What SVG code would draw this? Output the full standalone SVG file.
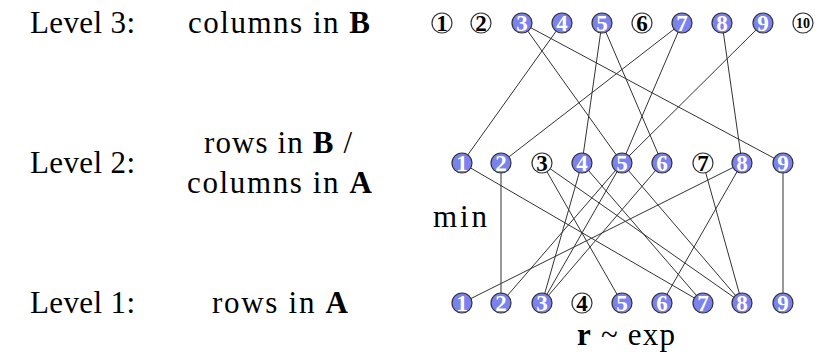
<svg xmlns="http://www.w3.org/2000/svg" width="818" height="352" viewBox="0 0 818 352">
<style>
.lbl{font-family:"Liberation Serif","DejaVu Serif",serif;font-size:31px;fill:#000}
.b{font-weight:bold}
.e line{stroke:#333;stroke-width:1}
.on circle{fill:#7a82ee;stroke:#333;stroke-width:1.2}
.off circle{fill:#fff;stroke:#333;stroke-width:1.2}
.on text{font-family:"Liberation Serif","DejaVu Serif",serif;font-weight:bold;font-size:23px;fill:#fff;text-anchor:middle}
.off text{font-family:"Liberation Serif","DejaVu Serif",serif;font-weight:bold;font-size:23px;fill:#000;text-anchor:middle}
</style>
<rect width="818" height="352" fill="#fff"/>
<g id="labels">
<text class="lbl" x="30" y="33" textLength="105" lengthAdjust="spacing">Level 3:</text>
<text class="lbl" x="188" y="33" textLength="182" lengthAdjust="spacing">columns in <tspan class="b">B</tspan></text>
<text class="lbl" x="30" y="173" textLength="105" lengthAdjust="spacing">Level 2:</text>
<text class="lbl" x="204" y="153" textLength="148" lengthAdjust="spacing">rows in <tspan class="b">B</tspan> /</text>
<text class="lbl" x="187" y="193" textLength="185" lengthAdjust="spacing">columns in <tspan class="b">A</tspan></text>
<text class="lbl" x="30" y="313" textLength="105" lengthAdjust="spacing">Level 1:</text>
<text class="lbl" x="212" y="313" textLength="136" lengthAdjust="spacing">rows in <tspan class="b">A</tspan></text>
<text class="lbl" x="433" y="227" textLength="54" lengthAdjust="spacing">min</text>
<text class="lbl" x="577" y="345" textLength="98" lengthAdjust="spacing"><tspan class="b">r</tspan> ~ exp</text>
</g>
<g id="connectors" class="e">
<line x1="522" y1="23" x2="622" y2="163"/>
<line x1="522" y1="23" x2="783" y2="163"/>
<line x1="562" y1="23" x2="462" y2="163"/>
<line x1="602" y1="23" x2="582" y2="163"/>
<line x1="602" y1="23" x2="662" y2="163"/>
<line x1="682" y1="23" x2="501" y2="163"/>
<line x1="682" y1="23" x2="622" y2="163"/>
<line x1="722" y1="23" x2="742" y2="163"/>
<line x1="763" y1="23" x2="622" y2="163"/>
<line x1="462" y1="163" x2="703" y2="303"/>
<line x1="501" y1="163" x2="501" y2="303"/>
<line x1="542" y1="163" x2="622" y2="303"/>
<line x1="542" y1="163" x2="742" y2="303"/>
<line x1="582" y1="163" x2="542" y2="303"/>
<line x1="582" y1="163" x2="703" y2="303"/>
<line x1="622" y1="163" x2="501" y2="303"/>
<line x1="622" y1="163" x2="542" y2="303"/>
<line x1="622" y1="163" x2="742" y2="303"/>
<line x1="662" y1="163" x2="542" y2="303"/>
<line x1="703" y1="163" x2="742" y2="303"/>
<line x1="742" y1="163" x2="462" y2="303"/>
<line x1="742" y1="163" x2="662" y2="303"/>
<line x1="783" y1="163" x2="783" y2="303"/>
</g>
<g id="l3-1" class="off"><circle cx="442" cy="23" r="10"/><text x="442" y="31">1</text></g>
<g id="l3-2" class="off"><circle cx="481" cy="23" r="10"/><text x="481" y="31">2</text></g>
<g id="l3-3" class="on"><circle cx="522" cy="23" r="10"/><text x="522" y="31">3</text></g>
<g id="l3-4" class="on"><circle cx="562" cy="23" r="10"/><text x="562" y="31">4</text></g>
<g id="l3-5" class="on"><circle cx="602" cy="23" r="10"/><text x="602" y="31">5</text></g>
<g id="l3-6" class="off"><circle cx="642" cy="23" r="10"/><text x="642" y="31">6</text></g>
<g id="l3-7" class="on"><circle cx="682" cy="23" r="10"/><text x="682" y="31">7</text></g>
<g id="l3-8" class="on"><circle cx="722" cy="23" r="10"/><text x="722" y="31">8</text></g>
<g id="l3-9" class="on"><circle cx="763" cy="23" r="10"/><text x="763" y="31">9</text></g>
<g id="l3-10" class="off"><circle cx="803" cy="23" r="10"/><text x="803" y="28" style="font-size:14px">10</text></g>
<g id="l2-1" class="on"><circle cx="462" cy="163" r="10"/><text x="462" y="171">1</text></g>
<g id="l2-2" class="on"><circle cx="501" cy="163" r="10"/><text x="501" y="171">2</text></g>
<g id="l2-3" class="off"><circle cx="542" cy="163" r="10"/><text x="542" y="171">3</text></g>
<g id="l2-4" class="on"><circle cx="582" cy="163" r="10"/><text x="582" y="171">4</text></g>
<g id="l2-5" class="on"><circle cx="622" cy="163" r="10"/><text x="622" y="171">5</text></g>
<g id="l2-6" class="on"><circle cx="662" cy="163" r="10"/><text x="662" y="171">6</text></g>
<g id="l2-7" class="off"><circle cx="703" cy="163" r="10"/><text x="703" y="171">7</text></g>
<g id="l2-8" class="on"><circle cx="742" cy="163" r="10"/><text x="742" y="171">8</text></g>
<g id="l2-9" class="on"><circle cx="783" cy="163" r="10"/><text x="783" y="171">9</text></g>
<g id="l1-1" class="on"><circle cx="462" cy="303" r="10"/><text x="462" y="311">1</text></g>
<g id="l1-2" class="on"><circle cx="501" cy="303" r="10"/><text x="501" y="311">2</text></g>
<g id="l1-3" class="on"><circle cx="542" cy="303" r="10"/><text x="542" y="311">3</text></g>
<g id="l1-4" class="off"><circle cx="582" cy="303" r="10"/><text x="582" y="311">4</text></g>
<g id="l1-5" class="on"><circle cx="622" cy="303" r="10"/><text x="622" y="311">5</text></g>
<g id="l1-6" class="on"><circle cx="662" cy="303" r="10"/><text x="662" y="311">6</text></g>
<g id="l1-7" class="on"><circle cx="703" cy="303" r="10"/><text x="703" y="311">7</text></g>
<g id="l1-8" class="on"><circle cx="742" cy="303" r="10"/><text x="742" y="311">8</text></g>
<g id="l1-9" class="on"><circle cx="783" cy="303" r="10"/><text x="783" y="311">9</text></g>
</svg>
